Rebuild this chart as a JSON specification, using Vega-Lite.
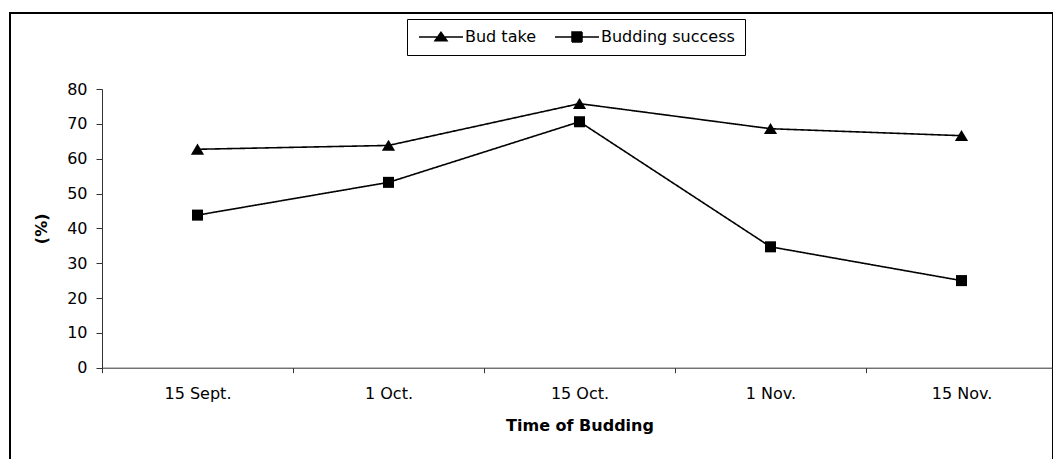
{
  "$schema": "https://vega.github.io/schema/vega-lite/v6.json",
  "width": 1043,
  "height": 448,
  "autosize": {"type": "none"},
  "padding": {"left": 10, "top": 13, "right": 0, "bottom": 0},
  "background": "white",
  "config": {
    "view": {"stroke": "black", "strokeWidth": 2},
    "font": "DejaVu Sans",
    "axis": {
      "labelFont": "DejaVu Sans",
      "labelFontSize": 16,
      "labelColor": "black",
      "titleFont": "DejaVu Sans",
      "titleFontSize": 16,
      "titleFontWeight": "bold",
      "titleColor": "black",
      "domainColor": "#333",
      "tickColor": "#333",
      "grid": false
    }
  },
  "data": {
    "values": [
      {"date": "15 Sept.", "series": "Bud take", "value": 62.7},
      {"date": "1 Oct.", "series": "Bud take", "value": 63.8},
      {"date": "15 Oct.", "series": "Bud take", "value": 75.8},
      {"date": "1 Nov.", "series": "Bud take", "value": 68.6},
      {"date": "15 Nov.", "series": "Bud take", "value": 66.6},
      {"date": "15 Sept.", "series": "Budding success", "value": 43.8},
      {"date": "1 Oct.", "series": "Budding success", "value": 53.2},
      {"date": "15 Oct.", "series": "Budding success", "value": 70.6},
      {"date": "1 Nov.", "series": "Budding success", "value": 34.7},
      {"date": "15 Nov.", "series": "Budding success", "value": 25.0}
    ]
  },
  "encoding": {
    "x": {
      "field": "date",
      "type": "nominal",
      "sort": ["15 Sept.", "1 Oct.", "15 Oct.", "1 Nov.", "15 Nov."],
      "scale": {"type": "band", "range": [92, 1047], "paddingInner": 0, "paddingOuter": 0},
      "axis": {
        "title": "Time of Budding",
        "labelAngle": 0,
        "offset": -93.3,
        "tickBand": "extent",
        "tickSize": 5,
        "labelPadding": 13,
        "titlePadding": 16
      }
    },
    "y": {
      "field": "value",
      "type": "quantitative",
      "scale": {"domain": [0, 80], "range": [354.7, 76], "nice": false, "zero": true},
      "axis": {
        "title": "(%)",
        "values": [0, 10, 20, 30, 40, 50, 60, 70, 80],
        "offset": -92,
        "tickSize": 6,
        "labelPadding": 9,
        "titlePadding": 17
      }
    }
  },
  "layer": [
    {
      "mark": {"type": "line", "color": "black", "strokeWidth": 1.6},
      "encoding": {
        "strokeDash": {
          "field": "series",
          "type": "nominal",
          "scale": {"domain": ["Bud take", "Budding success"], "range": [[1, 0], [1, 0]]},
          "legend": {
            "title": null,
            "orient": "none",
            "legendX": 397,
            "legendY": 6,
            "direction": "horizontal",
            "strokeColor": "black",
            "fillColor": "white",
            "padding": 10,
            "columnPadding": 16,
            "labelFont": "DejaVu Sans",
            "labelFontSize": 16,
            "labelColor": "black",
            "labelOffset": 32,
            "symbolSize": 100,
            "symbolStrokeWidth": 1.5,
            "symbolFillColor": "black",
            "symbolStrokeColor": "black",
            "symbolOpacity": 1,
            "symbolType": {"expr": "datum.value === 'Bud take' ? 'M-1.2,0H7.6M3.2,-0.95L4.4,0.75L2.0,0.75Z' : 'M-1.2,0H7.6M2.2,-1H4.2V1H2.2Z'"}
          }
        }
      }
    },
    {
      "transform": [{"filter": "datum.series === 'Bud take'"}],
      "mark": {"type": "point", "filled": true, "color": "black", "opacity": 1, "size": 144, "shape": "M0,-0.95L1.1,0.9L-1.1,0.9Z"}
    },
    {
      "transform": [{"filter": "datum.series === 'Budding success'"}],
      "mark": {"type": "point", "filled": true, "color": "black", "opacity": 1, "size": 144, "shape": "M-0.92,-0.92H0.92V0.92H-0.92Z"}
    }
  ]
}
